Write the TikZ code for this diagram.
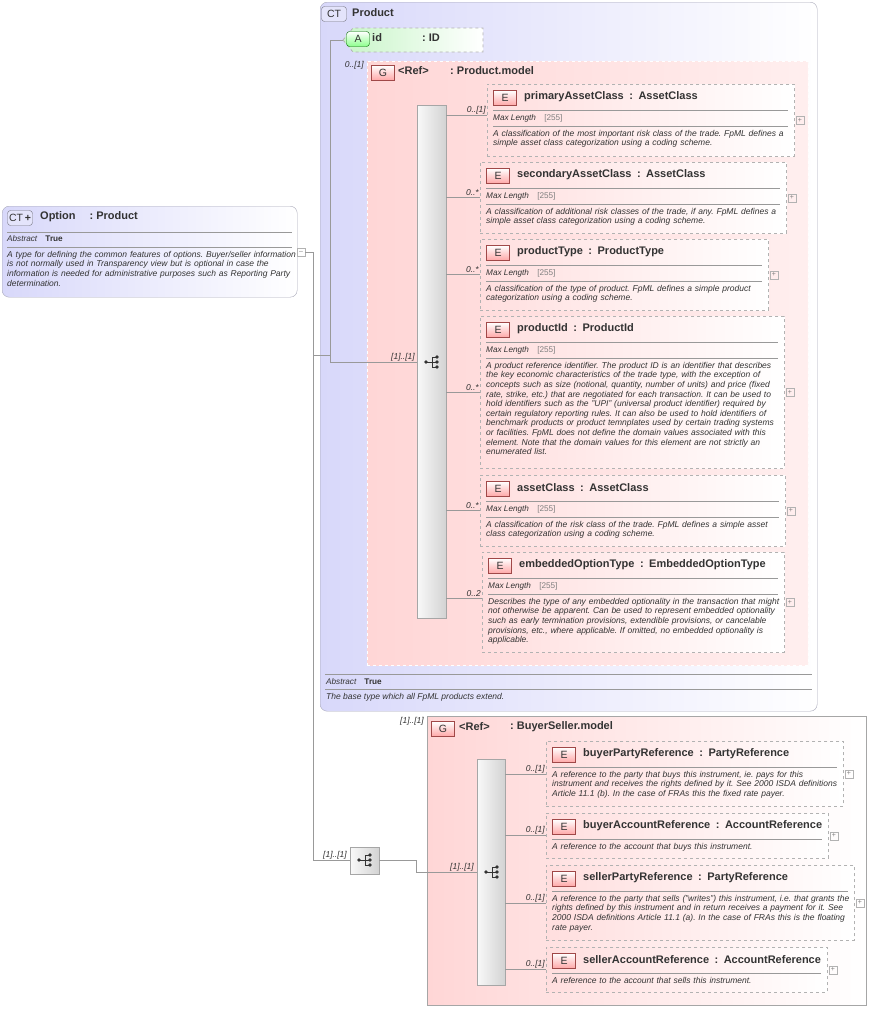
\documentclass[tikz,border=0pt]{standalone}
\usepackage{fontspec}
\setmainfont{Liberation Sans}
\usetikzlibrary{positioning}
\frenchspacing
\hyphenpenalty=10000
\exhyphenpenalty=10000

\definecolor{ctfill}{HTML}{D8D8FA}
\definecolor{ctline}{HTML}{A8A8B8}
\definecolor{grpfill}{HTML}{FFD6D6}
\definecolor{badgeline}{HTML}{A04848}
\definecolor{attrfill}{HTML}{C8F5C8}
\definecolor{txt}{HTML}{333333}

\tikzset{
  ct/.style={draw=ctline, rounded corners=7pt, left color=ctfill, right color=white},
  grp/.style={draw=gray!70, dashed, double=white, double distance=0.6pt, left color=grpfill, right color=grpfill!40},
  grp2/.style={draw=gray!70, left color=grpfill, right color=white},
  elem/.style={draw=gray!60, dashed, thick, left color=grpfill!80, right color=white, anchor=north west, inner sep=0pt},
  badge/.style={draw=badgeline, top color=white, bottom color=red!35, minimum width=23pt, minimum height=15pt, inner sep=0pt, font=\fontsize{10.5}{10.5}\selectfont, text=txt},
  ctbadge/.style={draw=ctline!70!black, rounded corners=3pt, fill=ctfill!70, minimum width=25pt, minimum height=15pt, inner sep=0pt, font=\fontsize{10.5}{10.5}\selectfont, text=txt},
  title/.style={font=\fontsize{11}{12}\bfseries\selectfont, text=txt, anchor=west, inner sep=0pt},
  ml/.style={font=\fontsize{8.2}{9}\itshape\selectfont, text=txt, anchor=west, inner sep=0pt},
  desc/.style={font=\fontsize{8.5}{9.6}\itshape\selectfont, text=txt, anchor=north west, align=left, inner sep=0pt},
  mult/.style={font=\fontsize{8.5}{9}\itshape\selectfont, text=txt, anchor=south east, inner sep=1pt},
  conn/.style={draw=gray!80, line width=0.6pt},
  sep/.style={draw=gray!80, line width=0.5pt},
  seqbar/.style={draw=gray!70, left color=gray!5, right color=gray!35, anchor=north west, inner sep=0pt},
  plus/.style={draw=gray!60, minimum size=8pt, inner sep=0pt, font=\fontsize{7}{7}\selectfont, text=gray},
}

% element box: name, x1, y1, x2, y2, title, type
\newcommand{\elhead}[7]{%
  \node[elem, minimum width={#4-#2}, minimum height={#5-#3}] (#1) at (#2,#3) {};
  \node[badge] (#1-b) at (#2+18,#3+14) {E};
  \node[title] (#1-t) at (#2+37,#3+13) {#6\enspace:\enspace#7};
  \draw[sep] (#2+6,#3+26) -- (#4-6,#3+26);
  \node[plus] (#1-p) at ([xshift=5pt]#1.east) {+};
}
% element with max length facet
\newcommand{\elemml}[8]{%
  \elhead{#1}{#2}{#3}{#4}{#5}{#6}{#7}
  \node[ml] (#1-ml) at (#2+6,#3+34) {Max Length\quad{\upshape\color{gray}[255]}};
  \draw[sep] (#2+6,#3+42) -- (#4-6,#3+42);
  \node[desc, text width={#4-#2-10}] (#1-d) at (#2+6,#3+46) {\raggedright #8};
}
% element with description only
\newcommand{\elemds}[8]{%
  \elhead{#1}{#2}{#3}{#4}{#5}{#6}{#7}
  \node[desc, text width={#4-#2-10}] (#1-d) at (#2+6,#3+30) {\raggedright #8};
}
% sequence icon
\newcommand{\seqicon}[2]{%
  \fill[txt] (#1-6,#2) circle (1.8pt);
  \draw[txt, line width=0.7pt] (#1-6,#2) -- (#1,#2) (#1,#2-5) -- (#1,#2+5)
    (#1,#2-5) -- (#1+4,#2-5) (#1,#2) -- (#1+4,#2) (#1,#2+5) -- (#1+4,#2+5);
  \foreach \dy in {-5,0,5} \fill[txt] (#1+5,#2+\dy) circle (1.8pt);
}

\begin{document}
\begin{tikzpicture}[x=1pt,y=-1pt]
\useasboundingbox (0,0) rectangle (874,1010);

% Option
\node[ct, anchor=north west, minimum width=295, minimum height=91, inner sep=0pt] (option) at (2,206) {};
\node[ctbadge] (option-b) at (20,218) {CT\,\textbf{+}};
\node[title] (option-t) at (40,217) {Option\hspace{14pt}: Product};
\draw[sep] (7,232) -- (292,232);
\node[ml] (option-abs) at (7,239) {Abstract\quad{\upshape\bfseries True}};
\draw[sep] (7,247) -- (292,247);
\node[desc, text width=290] (option-d) at (7,251) {\raggedright A type for defining the common features of options. Buyer/seller information is not normally used in Transparency view but is optional in case the information is needed for administrative purposes such as Reporting Party determination.};
\node[plus] (option-m) at (301,252) {--};

% Product
\node[ct, anchor=north west, minimum width=497, minimum height=709, inner sep=0pt] (product) at (320,2) {};
\node[ctbadge] (product-b) at (334,14) {CT};
\node[title] (product-t) at (352,13) {Product};
\draw[sep] (325,674) -- (812,674);
\node[ml] (product-abs) at (326,682) {Abstract\quad{\upshape\bfseries True}};
\draw[sep] (325,689) -- (812,689);
\node[desc] (product-d) at (326,693) {The base type which all FpML products extend.};

% attribute id
\draw[dashed, draw=gray!60, thick, left color=attrfill, right color=white] (343,40) -- (353,28) -- (483,28) -- (483,52) -- (353,52) -- cycle;
\coordinate (id-in) at (343,40);
\node[badge, top color=white, bottom color=green!45, draw=green!40!black, rounded corners=3pt] (id-b) at (358,39) {A};
\node[title] (id-t) at (372,38) {id};
\node[title] (id-ty) at (422,38) {: ID};

% Product.model group
\node[grp, anchor=north west, minimum width=441, minimum height=604, inner sep=0pt] (pm) at (367,61) {};
\node[mult] (pm-m) at (365,70) {0..[1]};
\node[badge] (pm-b) at (383,73) {G};
\node[title] (pm-t) at (398,71) {<Ref>};
\node[title] (pm-ty) at (450,71) {: Product.model};
\node[seqbar, minimum width=29, minimum height=513] (seq-a) at (417,105) {};
\seqicon{432}{362}

\elemml{pac}{487}{84}{794}{156}{primaryAssetClass}{AssetClass}{A classification of the most important risk class of the trade. FpML defines a simple asset class categorization using a coding scheme.}
\elemml{sac}{480}{162}{786}{233}{secondaryAssetClass}{AssetClass}{A classification of additional risk classes of the trade, if any. FpML defines a simple asset class categorization using a coding scheme.}
\elemml{ptype}{480}{239}{768}{310}{productType}{ProductType}{A classification of the type of product. FpML defines a simple product categorization using a coding scheme.}
\elemml{pid}{480}{316}{784}{468}{productId}{ProductId}{A product reference identifier. The product ID is an identifier that describes the key economic characteristics of the trade type, with the exception of concepts such as size (notional, quantity, number of units) and price (fixed rate, strike, etc.) that are negotiated for each transaction. It can be used to hold identifiers such as the "UPI" (universal product identifier) required by certain regulatory reporting rules. It can also be used to hold identifiers of benchmark products or product temnplates used by certain trading systems or facilities. FpML does not define the domain values associated with this element. Note that the domain values for this element are not strictly an enumerated list.}
\elemml{acl}{480}{475}{785}{546}{assetClass}{AssetClass}{A classification of the risk class of the trade. FpML defines a simple asset class categorization using a coding scheme.}
\elemml{eot}{482}{552}{784}{652}{embeddedOptionType}{EmbeddedOptionType}{Describes the type of any embedded optionality in the transaction that might not otherwise be apparent. Can be used to represent embedded optionality such as early termination provisions, extendible provisions, or cancelable provisions, etc., where applicable. If omitted, no embedded optionality is applicable.}

\foreach \n/\y/\m in {pac/115/{0..[1]}, sac/197/{0..*}, ptype/274/{0..*}, pid/392/{0..*}, acl/510/{0..*}, eot/598/{0..2}} {
  \coordinate (\n-y) at (0,\y);
  \draw[conn] (seq-a.east |- \n-y) -- (\n.west |- \n-y);
  \node[mult] at (\n.west |- \n-y) {\m};
}

% BuyerSeller.model group
\node[grp2, anchor=north west, minimum width=439, minimum height=289, inner sep=0pt] (bs) at (427,716) {};
\node[mult] (bs-m) at (425,726) {[1]..[1]};
\node[badge] (bs-b) at (443,729) {G};
\node[title] (bs-t) at (459,727) {<Ref>};
\node[title] (bs-ty) at (510,727) {: BuyerSeller.model};
\node[seqbar, minimum width=28, minimum height=226] (seq-b) at (477,759) {};
\seqicon{492}{872}

\elemds{bpr}{546}{741}{843}{806}{buyerPartyReference}{PartyReference}{A reference to the party that buys this instrument, ie. pays for this instrument and receives the rights defined by it. See 2000 ISDA definitions Article 11.1 (b). In the case of FRAs this the fixed rate payer.}
\elemds{bar}{546}{813}{828}{858}{buyerAccountReference}{AccountReference}{A reference to the account that buys this instrument.}
\elemds{spr}{546}{865}{854}{940}{sellerPartyReference}{PartyReference}{A reference to the party that sells ("writes") this instrument, i.e. that grants the rights defined by this instrument and in return receives a payment for it. See 2000 ISDA definitions Article 11.1 (a). In the case of FRAs this is the floating rate payer.}
\elemds{sar}{546}{947}{827}{992}{sellerAccountReference}{AccountReference}{A reference to the account that sells this instrument.}

\foreach \n/\y in {bpr/774, bar/835, spr/903, sar/969} {
  \coordinate (\n-y) at (0,\y);
  \draw[conn] (seq-b.east |- \n-y) -- (\n.west |- \n-y);
  \node[mult] at (\n.west |- \n-y) {0..[1]};
}

% choice box and tree connectors
\node[seqbar, minimum width=29, minimum height=27] (seq-c) at (350,847) {};
\seqicon{365}{860}
\coordinate (trunk-top) at (313,252);
\coordinate (trunk-mid) at (313,355);
\coordinate (trunk-bot) at (313,860);
\coordinate (prod-top) at (330,40);
\coordinate (prod-bot) at (330,362);
\coordinate (bs-knee) at (416,860);
\coordinate (bs-in) at (416,872);
\draw[conn] (option-m.east) -- (trunk-top) -- (trunk-bot) -- (seq-c.west |- trunk-bot);
\draw[conn] (trunk-mid) -- (trunk-mid -| prod-top);
\draw[conn] (id-in) -- (prod-top) -- (prod-bot) -- (seq-a.west |- prod-bot);
\node[mult] (seq-a-m) at (416,362) {[1]..[1]};
\node[mult] (seq-c-m) at (348,860) {[1]..[1]};
\draw[conn] (seq-c.east |- bs-knee) -- (bs-knee) -- (bs-in) -- (seq-b.west |- bs-in);
\node[mult] (seq-b-m) at (475,872) {[1]..[1]};

\end{tikzpicture}
\end{document}
